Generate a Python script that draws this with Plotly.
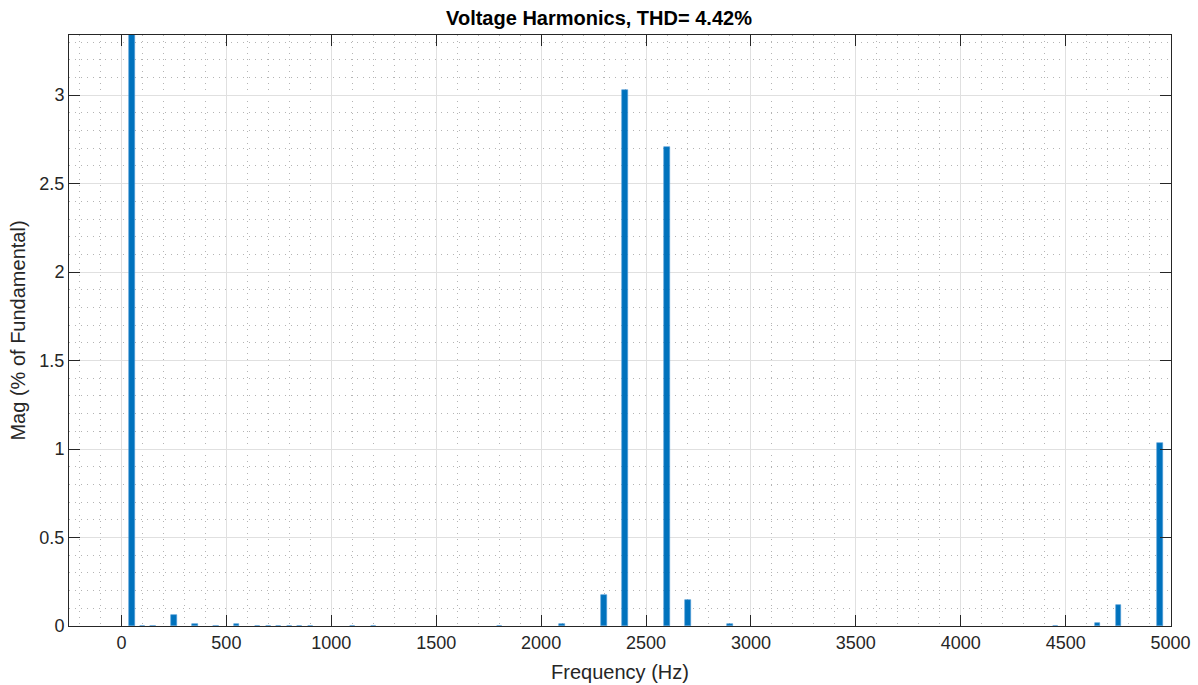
import plotly.graph_objects as go

# Harmonic spectrum (Hz) and magnitude (% of fundamental)
freq_hz = [50, 100, 150, 250, 350, 450, 550, 650, 700, 750, 800, 850, 900,
           1100, 1200, 1800, 2100, 2300, 2400, 2600, 2700, 2900,
           4450, 4650, 4750, 4950]
mag_pct = [100.0, 0.001, 0.001, 0.064, 0.011, 0.001, 0.009, 0.0015, 0.0015, 0.0015, 0.0015, 0.0015, 0.0015,
           0.001, 0.001, 0.0015, 0.011, 0.178, 3.03, 2.708, 0.145, 0.009,
           0.0015, 0.016, 0.12, 1.034]

title_text = "Voltage Harmonics, THD= 4.42%"
x_title = "Frequency (Hz)"
y_title = "Mag (% of Fundamental)"
x_ticks = [0, 500, 1000, 1500, 2000, 2500, 3000, 3500, 4000, 4500, 5000]
y_ticks = [0, 0.5, 1, 1.5, 2, 2.5, 3]

font_family = "Liberation Sans, Arial, Helvetica, sans-serif"
tick_color = "#262626"

fig = go.Figure()
fig.add_trace(go.Bar(
    x=freq_hz, y=mag_pct, width=25,
    marker=dict(color="#0072BD", line=dict(width=0.6, color="#4d9bd6")),
    hoverinfo="x+y",
))

axis_common = dict(
    showline=True, linecolor="#262626", linewidth=1, mirror="ticks",
    ticks="inside", ticklen=11, tickwidth=1, tickcolor="#262626",
    showgrid=True, gridcolor="#e0e0e0", gridwidth=1,
    zeroline=False, automargin=False,
    tickfont=dict(family=font_family, size=18, color=tick_color),
    title_font=dict(family=font_family, size=20, color=tick_color),
)

minor_grid = dict(showgrid=True, gridcolor="#b4b4b4", griddash="1px,5px", gridwidth=1, ticks="")

fig.update_layout(
    width=1198, height=685,
    margin=dict(l=69, r=27, t=35, b=59, autoexpand=False),
    plot_bgcolor="white", paper_bgcolor="white",
    showlegend=False, bargap=0,
    title=dict(text="<b>" + title_text + "</b>", x=0.5, xanchor="center",
               y=1 - 18 / 685, yanchor="middle", automargin=False,
               font=dict(family=font_family, size=20, color="black")),
)

fig.update_xaxes(
    range=[-250, 5002], tickvals=x_ticks, ticktext=[str(v) for v in x_ticks],
    title_text=x_title, title_standoff=13,
    minor=dict(dtick=100, tick0=0, **minor_grid),
    **axis_common,
)
fig.update_yaxes(
    range=[0, 3.34], tickvals=y_ticks, ticktext=["0", "0.5", "1", "1.5", "2", "2.5", "3"],
    title_text=y_title, title_standoff=8,
    minor=dict(dtick=0.1, tick0=0, **minor_grid),
    **axis_common,
)

fig.write_html("out.html")
